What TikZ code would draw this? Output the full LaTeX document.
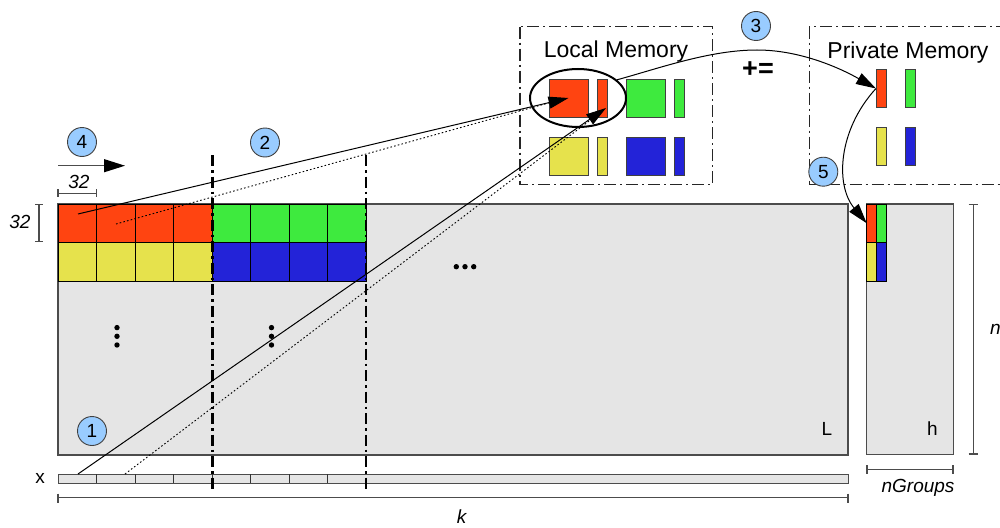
\documentclass[tikz,border=0pt]{standalone}
\usepackage{fontspec}
\setmainfont{Liberation Sans}
\usetikzlibrary{arrows.meta,shapes.geometric}

\definecolor{cred}{HTML}{FF4411}
\definecolor{cgreen}{HTML}{3EEA3E}
\definecolor{cyellow}{HTML}{E6E24C}
\definecolor{cblue}{HTML}{2323D8}
\definecolor{matgray}{HTML}{E5E5E5}
\definecolor{badgeblue}{HTML}{99CCFF}

\begin{document}
\begin{tikzpicture}[x=1pt, y=-1pt,
  mat/.style={draw=black!70, fill=matgray, line width=1.1pt},
  cellbox/.style={draw=black, line width=0.9pt},
  block/.style={draw=black!75, line width=0.8pt, inner sep=0pt, outer sep=0pt},
  dim/.style={draw=black!70, line width=1.2pt},
  badge/.style={circle, draw=black!75, line width=0.9pt, fill=badgeblue,
    minimum size=29pt, inner sep=0pt, font=\fontsize{19}{19}\selectfont},
  lbl/.style={inner sep=0pt, font=\fontsize{19}{22}\selectfont},
  ilbl/.style={inner sep=0pt, font=\fontsize{19}{22}\selectfont\itshape},
  memlbl/.style={inner sep=0pt, anchor=base, font=\fontsize{23}{27}\selectfont},
  membox/.style={draw=black!85, line width=1.4pt, dash pattern=on 12pt off 4pt on 2pt off 4pt},
  split/.style={draw=black, line width=2.6pt, dash pattern=on 11pt off 4pt on 2.5pt off 4pt},
  bigtip/.style={-{Triangle[length=20pt,width=12pt]}},
  feed/.style={draw=black, line width=1pt},
  feeddot/.style={draw=black, line width=0.9pt, dash pattern=on 1.6pt off 2.2pt},
  dot/.style={fill=black}
]
\useasboundingbox (0,0) rectangle (1000,527);

% ---------------- matrix L and vector x ----------------
\draw[mat] (58,204) rectangle (848,455);
\foreach \i in {0,...,3}{
  \draw[cellbox, fill=cred]    (58+38.5*\i,204)   rectangle (96.5+38.5*\i,242.5);
  \draw[cellbox, fill=cyellow] (58+38.5*\i,242.5) rectangle (96.5+38.5*\i,281);
  \draw[cellbox, fill=cgreen]  (212+38.5*\i,204)   rectangle (250.5+38.5*\i,242.5);
  \draw[cellbox, fill=cblue]   (212+38.5*\i,242.5) rectangle (250.5+38.5*\i,281);
}
\foreach \d in {-8.7,0,8.7}{
  \fill[dot] (465+\d,266.7) circle[radius=2.7];
  \fill[dot] (117,336.3+\d) circle[radius=2.7];
  \fill[dot] (271.5,336.3+\d) circle[radius=2.7];
  \fill[dot] (465+\d,478.3) circle[radius=2.7];
  \fill[dot] (922.7+\d,247.7) circle[radius=2.7];
  \fill[dot] (878.7,336+\d) circle[radius=2.7];
}
\node[lbl] (Llbl) at (827,429.2) {L};

\draw[mat, line width=1pt] (58,474) rectangle (848,483.3);
\foreach \i in {1,...,7}
  \draw[draw=black!80, line width=0.9pt] (58+38.5*\i,474) -- (58+38.5*\i,483.3);
\node[lbl] (xlbl) at (40,478) {x};

% ---------------- result h ----------------
\draw[mat] (866.7,204) rectangle (953.5,454.5);
\node[block, draw=black, fill=cred,    minimum width=9.6pt, minimum height=38.5pt] (hr) at (871.5,223.25) {};
\node[block, draw=black, fill=cgreen,  minimum width=9.6pt, minimum height=38.5pt] (hg) at (881.1,223.25) {};
\node[block, draw=black, fill=cyellow, minimum width=9.6pt, minimum height=38.5pt] (hy) at (871.5,261.75) {};
\node[block, draw=black, fill=cblue,   minimum width=9.6pt, minimum height=38.5pt] (hb) at (881.1,261.75) {};
\node[lbl] (hlbl) at (932.5,428.8) {h};

% ---------------- dimensions ----------------
\draw[dim] (58,189.3) -- (58,197.3) (58,193.3) -- (96.7,193.3) (96.7,189.3) -- (96.7,197.3);
\node[ilbl] (w32) at (79,181.7) {32};
\draw[dim] (35,204.5) -- (43.3,204.5) (39,204.5) -- (39,241.7) (35,241.7) -- (43.3,241.7);
\node[ilbl] (h32) at (20,221.7) {32};

\draw[dim] (58,493.5) -- (58,502.5) (58,497.7) -- (848,497.7) (848,493.5) -- (848,502.5);
\node[ilbl] (klbl) at (461.7,516.3) {k};

\draw[dim] (867,465) -- (867,473.5) (867,469.3) -- (953,469.3) (953,465) -- (953,473.5);
\node[ilbl] (nglbl) at (918,487.5) {nGroups};

\draw[dim] (968.6,204.5) -- (978,204.5) (973.3,204.5) -- (973.3,454) (968.6,454) -- (978,454);
\node[ilbl] (nlbl) at (995.5,329) {n};

% ---------------- local memory ----------------
\draw[membox] (520,26.7) rectangle (712.7,184.3);
\node[memlbl] (lmlbl) at (616,57.7) {Local Memory};
\node[block, fill=cred,    minimum width=39pt,   minimum height=38pt] (lr)  at (568.5,98) {};
\node[block, fill=cred,    minimum width=10.5pt, minimum height=38pt] (lrt) at (602.2,98) {};
\node[block, fill=cgreen,  minimum width=39pt,   minimum height=38pt] (lg)  at (645.5,98) {};
\node[block, fill=cgreen,  minimum width=10pt,   minimum height=38pt] (lgt) at (679,98) {};
\node[block, fill=cyellow, minimum width=39pt,   minimum height=38pt] (ly)  at (568.5,156) {};
\node[block, fill=cyellow, minimum width=10.5pt, minimum height=38pt] (lyt) at (602.2,156) {};
\node[block, fill=cblue,   minimum width=39.5pt, minimum height=38pt] (lb)  at (645.7,156) {};
\node[block, fill=cblue,   minimum width=10pt,   minimum height=38pt] (lbt) at (679,156) {};
\node[ellipse, draw=black, line width=2pt, minimum width=96pt, minimum height=58pt,
      inner sep=0pt] (ell) at (578,98) {};

% ---------------- private memory ----------------
\begin{scope}
  \clip (0,0) rectangle (1000,527);
  \draw[membox] (809.3,26.7) rectangle (1015,184.3);
\end{scope}
\node[memlbl] (pmlbl) at (908,58.3) {Private Memory};
\node[block, fill=cred,    minimum width=10.7pt, minimum height=38.4pt] (pr) at (881.3,88.5) {};
\node[block, fill=cgreen,  minimum width=10.4pt, minimum height=38.4pt] (pg) at (910.5,88.5) {};
\node[block, fill=cyellow, minimum width=10.7pt, minimum height=38.4pt] (py) at (881.3,146.5) {};
\node[block, fill=cblue,   minimum width=10.4pt, minimum height=38.4pt] (pb) at (910.5,146.5) {};

\node[inner sep=0pt, font=\fontsize{27}{30}\selectfont\bfseries] (acc) at (758,70) {+=};

% ---------------- data movement ----------------
\coordinate (a1)  at (78,214);
\coordinate (a1d) at (116,224);
\coordinate (t1d) at (552,102);
\coordinate (b1)  at (78,474);
\coordinate (b1d) at (125,474);
\coordinate (t2)  at (606,108);
\coordinate (t2d) at (597,115);

\draw[feeddot] (a1d) -- (t1d);
\draw[feeddot] (b1d) -- (t2d);
\draw[feed, bigtip] (a1) -- (lr.center);
\draw[feed, bigtip] (b1) -- (t2);

\draw[split] (212.3,155) -- (212.3,492);
\draw[split] (366,155) -- (366,492);

\draw[feed, bigtip] (ell.25) .. controls (660,68) and (710,50) .. (757,50)
  .. controls (800,50) and (840,68) .. (pr.west);
\draw[feed, bigtip] (pr.west) .. controls (838,130) and (835,185) .. (hr.west);

\coordinate (s4) at (58,165.7);
\coordinate (e4) at (125,165.7);
\draw[draw=black!70, line width=1.2pt, -{Triangle[length=21pt,width=13pt,color=black]}] (s4) -- (e4);

% ---------------- step badges ----------------
\node[badge] (st1) at (92,431) {1};
\node[badge] (st2) at (265,142.5) {2};
\node[badge] (st3) at (756,26) {3};
\node[badge] (st4) at (82,142) {4};
\node[badge] (st5) at (823.3,171.7) {5};
\end{tikzpicture}
\end{document}
